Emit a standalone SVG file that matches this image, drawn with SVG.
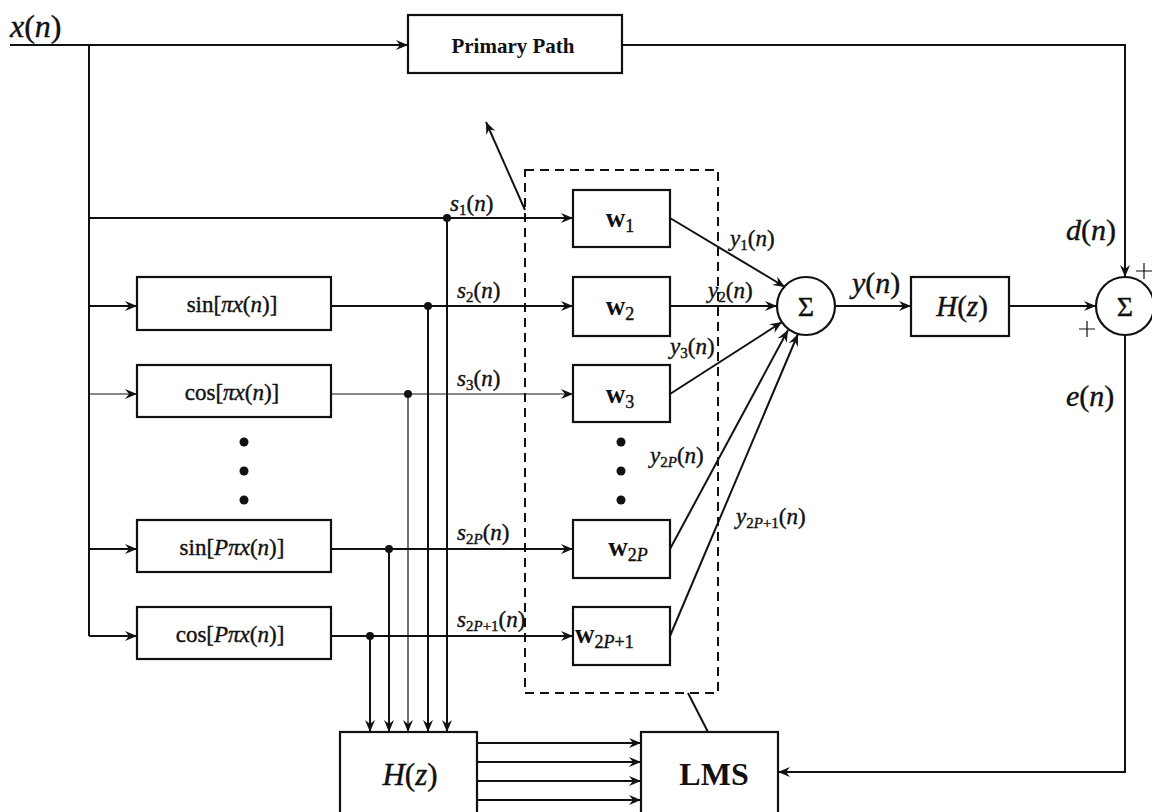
<svg xmlns="http://www.w3.org/2000/svg" width="1152" height="812" viewBox="0 0 1152 812">
<style>
.box{fill:#fff;stroke:#111;stroke-width:2.2}
.ln{fill:none;stroke:#111;stroke-width:2}
.thin{fill:none;stroke:#111;stroke-width:1.2}
.dash{fill:none;stroke:#111;stroke-width:2;stroke-dasharray:9,6}
.m{font-family:"Liberation Serif",serif;font-style:italic;fill:#111;stroke:#111;stroke-width:0.4}
.r{font-family:"Liberation Serif",serif;font-style:normal;fill:#111;stroke:#111;stroke-width:0.4}
.b{font-family:"Liberation Serif",serif;font-style:normal;font-weight:bold;fill:#111}
</style>
<defs>
<marker id="ah" markerUnits="userSpaceOnUse" markerWidth="14" markerHeight="10" refX="12" refY="5" orient="auto">
<path d="M0,0 L12,5 L0,10 L4,5 z" fill="#111"/>
</marker>
</defs>
<rect width="1152" height="812" fill="#fff"/>

<g id="connectors">
<line class="ln" x1="10" y1="45" x2="408" y2="45" marker-end="url(#ah)"/>
<polyline class="ln" points="622,45 1125,45 1125,277" marker-end="url(#ah)"/>
<line class="ln" x1="89" y1="45" x2="89" y2="636"/>
<line class="ln" x1="89" y1="218" x2="573" y2="218" marker-end="url(#ah)"/>
<line class="ln" x1="89" y1="306" x2="137" y2="306" marker-end="url(#ah)"/>
<line class="thin" x1="89" y1="394" x2="137" y2="394" marker-end="url(#ah)"/>
<line class="ln" x1="89" y1="549" x2="137" y2="549" marker-end="url(#ah)"/>
<line class="ln" x1="89" y1="636" x2="137" y2="636" marker-end="url(#ah)"/>
<line class="ln" x1="331" y1="306" x2="573" y2="306" marker-end="url(#ah)"/>
<line class="thin" x1="331" y1="394" x2="573" y2="394" marker-end="url(#ah)"/>
<line class="ln" x1="331" y1="549" x2="573" y2="549" marker-end="url(#ah)"/>
<line class="ln" x1="331" y1="636" x2="573" y2="636" marker-end="url(#ah)"/>
<line class="ln" x1="447" y1="218" x2="447" y2="732" marker-end="url(#ah)"/>
<line class="ln" x1="428" y1="306" x2="428" y2="732" marker-end="url(#ah)"/>
<line class="thin" x1="408" y1="394" x2="408" y2="732" marker-end="url(#ah)"/>
<line class="ln" x1="389" y1="549" x2="389" y2="732" marker-end="url(#ah)"/>
<line class="ln" x1="370" y1="636" x2="370" y2="732" marker-end="url(#ah)"/>
<circle cx="447" cy="218" r="4" fill="#111"/>
<circle cx="428" cy="306" r="4" fill="#111"/>
<circle cx="408" cy="394" r="4" fill="#111"/>
<circle cx="389" cy="549" r="4" fill="#111"/>
<circle cx="370" cy="636" r="4" fill="#111"/>
<line class="ln" x1="670" y1="218" x2="785" y2="287" marker-end="url(#ah)"/>
<line class="ln" x1="670" y1="306" x2="777" y2="306" marker-end="url(#ah)"/>
<line class="ln" x1="670" y1="394" x2="782" y2="322" marker-end="url(#ah)"/>
<line class="ln" x1="670" y1="549" x2="788" y2="330" marker-end="url(#ah)"/>
<line class="ln" x1="670" y1="636" x2="798" y2="334" marker-end="url(#ah)"/>
<line class="ln" x1="835" y1="306" x2="911" y2="306" marker-end="url(#ah)"/>
<line class="ln" x1="1009" y1="306" x2="1096" y2="306" marker-end="url(#ah)"/>
<polyline class="ln" points="1125,335 1125,772 778,772" marker-end="url(#ah)"/>
<line class="ln" x1="477" y1="743" x2="641" y2="743" marker-end="url(#ah)"/>
<line class="ln" x1="477" y1="762" x2="641" y2="762" marker-end="url(#ah)"/>
<line class="ln" x1="477" y1="781" x2="641" y2="781" marker-end="url(#ah)"/>
<line class="ln" x1="477" y1="800" x2="641" y2="800" marker-end="url(#ah)"/>
<line class="ln" x1="688" y1="693" x2="708" y2="732"/>
<line class="ln" x1="525" y1="210" x2="486" y2="122" marker-end="url(#ah)"/>
</g>

<g id="weights-frame">
<rect class="dash" x="525" y="170" width="193" height="523"/>
</g>

<g id="primary-path">
<rect class="box" x="408" y="15" width="214" height="58"/>
<text class="b" x="513" y="53" font-size="21" text-anchor="middle">Primary Path</text>
</g>

<g id="sin1">
<rect class="box" x="137" y="277" width="194" height="53"/>
<text class="r" x="232" y="312" font-size="23" text-anchor="middle">sin[<tspan class="m">πx</tspan>(<tspan class="m">n</tspan>)]</text>
</g>
<g id="cos1">
<rect class="box" x="137" y="365" width="194" height="52"/>
<text class="r" x="232" y="400" font-size="23" text-anchor="middle">cos[<tspan class="m">πx</tspan>(<tspan class="m">n</tspan>)]</text>
</g>
<g id="dots-left">
<circle cx="244" cy="442" r="4.5" fill="#111"/>
<circle cx="244" cy="471" r="4.5" fill="#111"/>
<circle cx="244" cy="500" r="4.5" fill="#111"/>
</g>
<g id="sinP">
<rect class="box" x="137" y="520" width="194" height="52"/>
<text class="r" x="232" y="555" font-size="23" text-anchor="middle">sin[<tspan class="m">Pπx</tspan>(<tspan class="m">n</tspan>)]</text>
</g>
<g id="cosP">
<rect class="box" x="137" y="607" width="194" height="52"/>
<text class="r" x="230" y="642" font-size="23" text-anchor="middle">cos[<tspan class="m">Pπx</tspan>(<tspan class="m">n</tspan>)]</text>
</g>

<g id="w1">
<rect class="box" x="573" y="190" width="97" height="57"/>
<text class="b" x="620" y="227" font-size="27" text-anchor="middle">w<tspan class="r" font-weight="normal" font-size="18" dy="5">1</tspan></text>
</g>
<g id="w2">
<rect class="box" x="573" y="277" width="97" height="59"/>
<text class="b" x="620" y="315" font-size="27" text-anchor="middle">w<tspan class="r" font-weight="normal" font-size="18" dy="5">2</tspan></text>
</g>
<g id="w3">
<rect class="box" x="573" y="365" width="97" height="57"/>
<text class="b" x="620" y="403" font-size="27" text-anchor="middle">w<tspan class="r" font-weight="normal" font-size="18" dy="5">3</tspan></text>
</g>
<g id="dots-w">
<circle cx="621" cy="442" r="4.5" fill="#111"/>
<circle cx="621" cy="471" r="4.5" fill="#111"/>
<circle cx="621" cy="500" r="4.5" fill="#111"/>
</g>
<g id="w2P">
<rect class="box" x="573" y="520" width="97" height="58"/>
<text class="b" x="628" y="556" font-size="27" text-anchor="middle">w<tspan class="r" font-weight="normal" font-size="18" dy="5">2<tspan class="m">P</tspan></tspan></text>
</g>
<g id="w2P1">
<rect class="box" x="573" y="607" width="97" height="58"/>
<text class="b" x="575" y="643" font-size="27">w<tspan class="r" font-weight="normal" font-size="18" dy="5">2<tspan class="m">P</tspan>+1</tspan></text>
</g>

<g id="sum1">
<circle cx="806" cy="306" r="29" fill="#fff" stroke="#111" stroke-width="2.2"/>
<text class="r" x="806" y="316" font-size="28" text-anchor="middle">Σ</text>
</g>
<g id="Hz-secondary">
<rect class="box" x="911" y="277" width="98" height="59"/>
<text class="m" x="962" y="316" font-size="29" text-anchor="middle">H<tspan class="r">(</tspan>z<tspan class="r">)</tspan></text>
</g>
<g id="sum2">
<circle cx="1125" cy="306" r="29" fill="#fff" stroke="#111" stroke-width="2.2"/>
<text class="r" x="1125" y="316" font-size="28" text-anchor="middle">Σ</text>
<path class="thin" d="M1136,271 H1152 M1144,263 V279 M1079,329 H1095 M1087,321 V337"/>
</g>

<g id="Hz-filter">
<rect class="box" x="340" y="732" width="137" height="90"/>
<text class="m" x="410" y="785" font-size="31" text-anchor="middle">H<tspan class="r">(</tspan>z<tspan class="r">)</tspan></text>
</g>
<g id="LMS">
<rect class="box" x="641" y="732" width="137" height="90"/>
<text class="b" x="714" y="785" font-size="32" text-anchor="middle">LMS</text>
</g>

<g id="labels" font-size="23">
<text class="m" x="10" y="37" font-size="32">x<tspan class="r">(</tspan>n<tspan class="r">)</tspan></text>
<text class="m" x="450" y="211">s<tspan class="r" font-size="15" dy="4">1</tspan><tspan class="r" dy="-4">(</tspan>n<tspan class="r">)</tspan></text>
<text class="m" x="457" y="298">s<tspan class="r" font-size="15" dy="4">2</tspan><tspan class="r" dy="-4">(</tspan>n<tspan class="r">)</tspan></text>
<text class="m" x="457" y="386">s<tspan class="r" font-size="15" dy="4">3</tspan><tspan class="r" dy="-4">(</tspan>n<tspan class="r">)</tspan></text>
<text class="m" x="457" y="540">s<tspan class="r" font-size="15" dy="4">2<tspan class="m">P</tspan></tspan><tspan class="r" dy="-4">(</tspan>n<tspan class="r">)</tspan></text>
<text class="m" x="457" y="627">s<tspan class="r" font-size="15" dy="4">2<tspan class="m">P</tspan>+1</tspan><tspan class="r" dy="-4">(</tspan>n<tspan class="r">)</tspan></text>
<text class="m" x="730" y="246">y<tspan class="r" font-size="15" dy="4">1</tspan><tspan class="r" dy="-4">(</tspan>n<tspan class="r">)</tspan></text>
<text class="m" x="708" y="298">y<tspan class="r" font-size="15" dy="4">2</tspan><tspan class="r" dy="-4">(</tspan>n<tspan class="r">)</tspan></text>
<text class="m" x="670" y="354">y<tspan class="r" font-size="15" dy="4">3</tspan><tspan class="r" dy="-4">(</tspan>n<tspan class="r">)</tspan></text>
<text class="m" x="650" y="463">y<tspan class="r" font-size="15" dy="4">2<tspan class="m">P</tspan></tspan><tspan class="r" dy="-4">(</tspan>n<tspan class="r">)</tspan></text>
<text class="m" x="736" y="524">y<tspan class="r" font-size="15" dy="4">2<tspan class="m">P</tspan>+1</tspan><tspan class="r" dy="-4">(</tspan>n<tspan class="r">)</tspan></text>
<text class="m" x="852" y="293" font-size="30">y<tspan class="r">(</tspan>n<tspan class="r">)</tspan></text>
<text class="m" x="1066" y="240" font-size="30">d<tspan class="r">(</tspan>n<tspan class="r">)</tspan></text>
<text class="m" x="1066" y="406" font-size="30">e<tspan class="r">(</tspan>n<tspan class="r">)</tspan></text>
</g>
</svg>
